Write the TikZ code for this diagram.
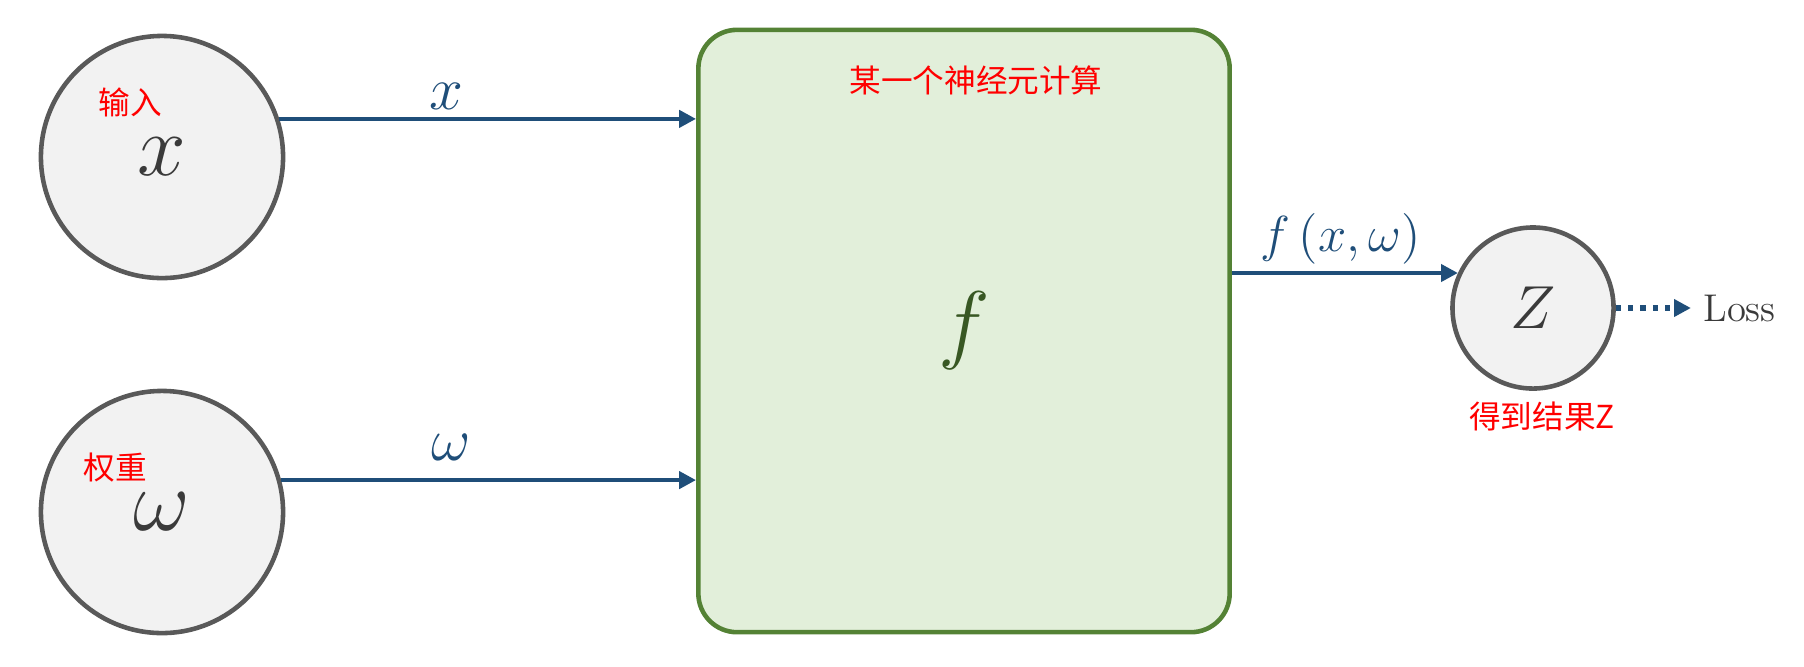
\documentclass[tikz,border=0pt]{standalone}
\usepackage{fontspec}
\newfontfamily\cjk{Noto Sans CJK SC}
\usetikzlibrary{positioning}
\usetikzlibrary{arrows.meta}
\definecolor{circfill}{HTML}{F2F2F2}
\definecolor{circdraw}{HTML}{595959}
\definecolor{lettergray}{HTML}{3A3A3A}
\definecolor{boxfill}{HTML}{E2EFDA}
\definecolor{boxdraw}{HTML}{548235}
\definecolor{fgreen}{HTML}{385723}
\definecolor{arrowblue}{HTML}{1F4E79}
\definecolor{cnred}{HTML}{FF0000}
\tikzset{>={Triangle[length=4.8pt,width=4.8pt]}}
\tikzset{vert/.style={draw=circdraw, circle, line width=1.3pt, fill=circfill, inner sep=0pt, text=lettergray, font=\fontsize{24}{24}\selectfont}}
\tikzset{fbox/.style={draw=boxdraw, fill=boxfill, line width=1.3pt, rounded corners=11pt, minimum width=5.31cm, minimum height=6.02cm, text=fgreen, font=\fontsize{24}{24}\selectfont}}
\tikzset{cn/.style={text=cnred, inner sep=1pt, font=\cjk\fontsize{9}{9}\selectfont}}
\tikzset{ed/.style={inner sep=2pt, text=arrowblue, font=\fontsize{16}{16}\selectfont}}
\tikzset{conn/.style={->, draw=arrowblue, line width=1.2pt}}

\begin{document}
\begin{tikzpicture}[x=0.01cm,y=0.01cm]
\useasboundingbox (0,0) rectangle (1804,-666);

\node[vert, minimum size=2.42cm] (inx) at (162,-157) {$x$};
\node[vert, minimum size=2.42cm] (inw) at (162,-512) {$\omega$};
\node[fbox] (neuron) at (964,-331) {$f$};
\node[vert, minimum size=1.61cm, font=\fontsize{16}{16}\selectfont] (zc) at (1533,-308) {$Z$};
\node (loss) [right=7.5mm of zc, font=\fontsize{11}{11}\selectfont, text=lettergray] {Loss};

\node[cn] (inxlbl) at (130,-102) {输入};
\node[cn] (inwlbl) at (115,-468) {权重};
\node[cn] (title) at (976,-80) {某一个神经元计算};
\node[cn] (zlbl) [below=2pt of zc, xshift=0.09cm] {得到结果Z};

\draw[conn] (inx.18) -- (inx.18 -| neuron.west) node[ed, above, pos=0.4] {$x$};
\draw[conn] (inw.15) -- (inw.15 -| neuron.west) node[ed, above, pos=0.41, yshift=3pt] {$\omega$};
\draw[conn] (neuron.east |- zc.155) -- (zc.155) node[ed, above, pos=0.48, font=\fontsize{15}{15}\selectfont] {$f\,(x,\omega)$};
\draw[conn, line width=1.7pt, dash pattern=on 1.5pt off 2pt] (zc.east) -- (loss.west);

\end{tikzpicture}
\end{document}
